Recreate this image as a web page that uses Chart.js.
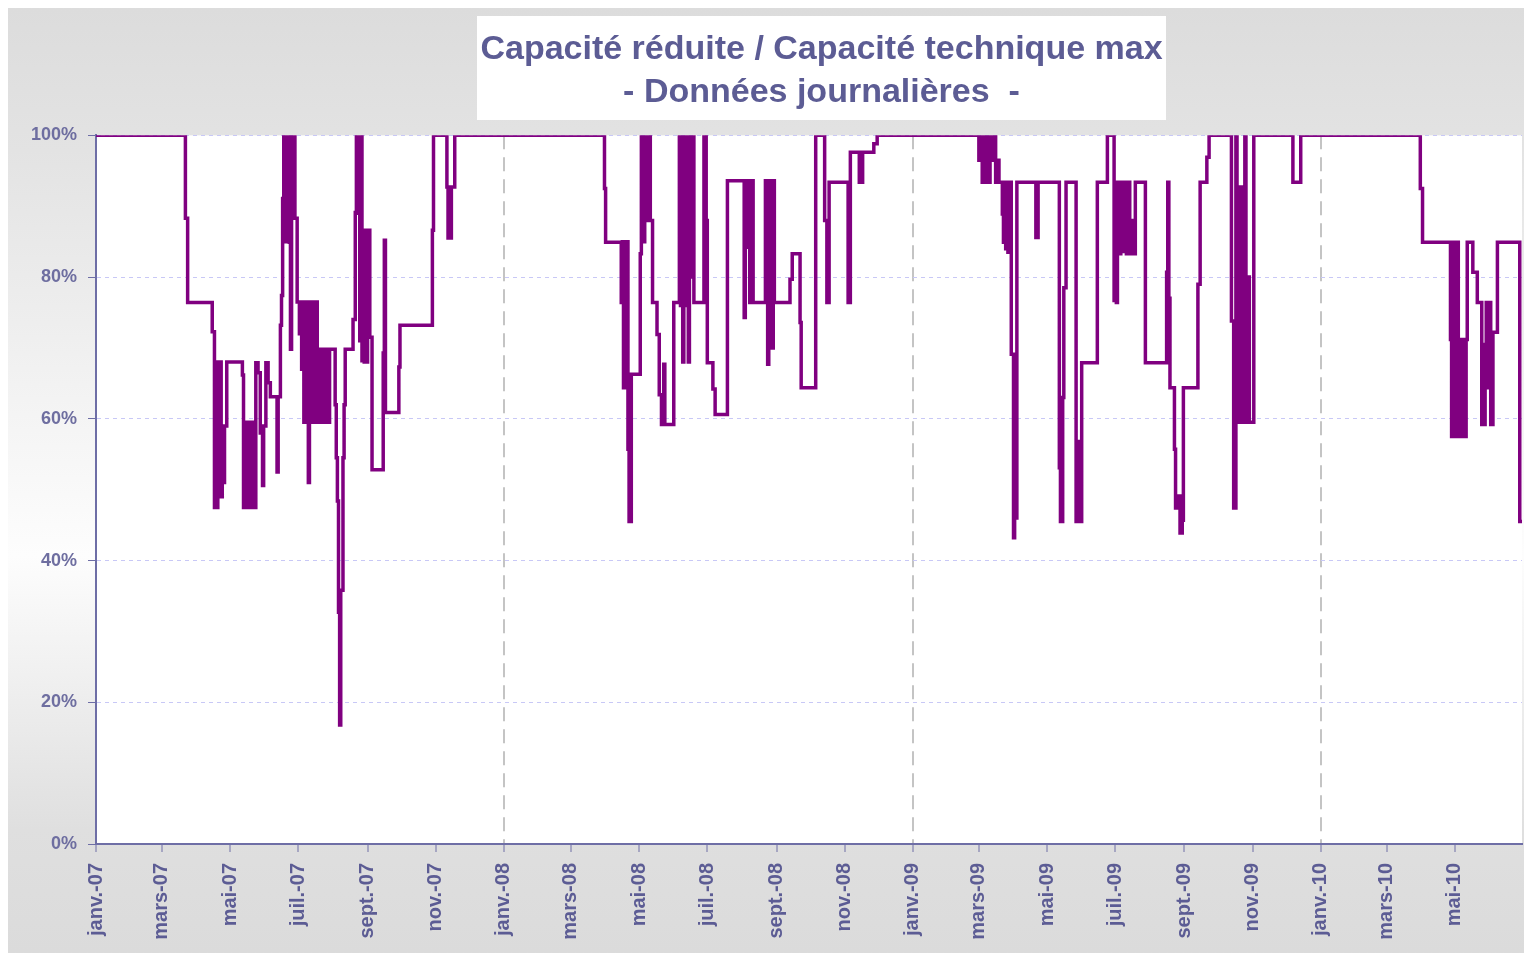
<!DOCTYPE html>
<html lang="fr">
<head>
<meta charset="utf-8">
<title>Capacité réduite / Capacité technique max</title>
<script src="https://cdn.jsdelivr.net/npm/chart.js@4/dist/chart.umd.min.js"></script>
<style>
    html, body { margin: 0; padding: 0; background: #fff; }
    #canvas-container { width: 1524px; height: 953px; }
</style>
</head>
<body>
<div id="canvas-container"><canvas id="canvas"></canvas></div>
<script>
// titre du graphique (2 lignes)
var titreLignes = ['Capacité réduite / Capacité technique max', '- Données journalières  -'];

// etiquettes de l'axe X, un mois sur deux a partir de janv. 2007
var etiquettesMois = ['janv.-07', 'mars-07', 'mai-07', 'juil.-07', 'sept.-07', 'nov.-07',
                      'janv.-08', 'mars-08', 'mai-08', 'juil.-08', 'sept.-08', 'nov.-08',
                      'janv.-09', 'mars-09', 'mai-09', 'juil.-09', 'sept.-09', 'nov.-09',
                      'janv.-10', 'mars-10', 'mai-10'];

// dernier jour affiche (30 juin 2010), en jours depuis le 1er janv. 2007
var jourFin = 1276;

// releves: [jour depuis le 01/01/2007, capacite en %], la valeur vaut jusqu'au releve suivant
var releves2007 = [
    [0,100],[80,88.3],[82,76.4],[104,72.3],[106,47.5],[107,68],[108,47.5],[109,68],[110,59],
    [111,68],[112,49],[113,59],[114,51],[115,59],[117,68],[131,66.2],[132,47.5],[133,59.5],
    [134,47.5],[135,59.5],[136,47.5],[137,58.5],[138,47.5],[139,59.5],[140,47.5],[141,59],
    [142,47.5],[143,67.9],[145,66.5],[147,58],[149,50.6],[150,59],[152,67.9],[154,65.1],
    [156,63.1],[162,52.5],[163,63.1],[165,73.2],[166,77.4],[167,91.1],[168,100],[170,85],
    [171,100],[173,84.9],[174,69.8],[175,100],[178,88.3],[180,76.5],[182,72],[183,76.5],
    [184,67],[185,76],[186,59.5],[187,76.5],[188,70],[189,76.5],[190,51],[191,64],[192,76.5],
    [193,59.5],[195,76.5],[196,59.5],[197,76.5],[198,59.5],[201,69.8],[202,59.5],[205,69.8],
    [206,59.5],[209,69.8],[214,62],[215,54.5],[216,48.4],[217,32.7],[218,16.8],[219,35.8],
    [221,54.5],[222,62],[223,69.8],[230,74],[232,89.1],[233,100],[234,89],[235,100],[236,71],
    [237,100],[238,68.2],[239,84.4],[240,68],[241,86.6],[242,68],[243,86.6],[245,71.5],
    [247,52.8],[257,69.3],[258,85.2],[259,60.9],[271,67.3],[272,73.2],[301,86.6],[302,100],
    [314,92.7],[315,85.5],[318,92.7],[321,100]
];

var releves2008 = [
    [455,92.5],[456,84.9],[470,76.4],[471,85],[472,64.4],[473,85],[474,65.3],[475,85],
    [476,55.7],[477,45.5],[479,66.3],[487,83.3],[488,100],[490,85],[491,100],[493,88],
    [494,100],[496,88],[498,76.4],[502,71.9],[504,63.4],[506,59.2],[508,67.7],[509,59.2],
    [517,76.4],[522,100],[523,76],[524,100],[525,68],[526,100],[527,76],[528,100],[530,68],
    [531,100],[533,80],[534,100],[535,76.4],[544,100],[546,88],[547,67.9],[552,64.2],
    [554,60.6],[565,93.6],[580,74.3],[581,93.6],[582,84.2],[583,93.6],[585,76.4],[587,93.6],
    [588,76.4],[599,93.6],[600,76.4],[601,67.7],[602,76.4],[603,93.6],[604,80],[605,70],
    [606,93.6],[607,76.4],[621,79.7],[623,83.3],[630,73.6],[631,64.4],[644,100],[652,88],
    [654,76.4],[656,93.4],[673,76.4],[675,97.6],[683,93.4],[686,97.6],[696,98.8],[699,100]
];

var releves2009 = [
    [790,96.5],[791,100],[793,93.4],[794,100],[796,93.4],[797,100],[799,93.4],[800,100],
    [802,96.5],[803,100],[805,93.4],[807,96.5],[808,93.4],[811,88.9],[812,84.9],[813,93.4],
    [814,84],[815,93.4],[816,83.5],[818,93.4],[819,69.1],[821,43.2],[822,46],[824,93.4],
    [841,85.6],[843,93.4],[862,53.1],[863,45.5],[865,63],[866,78.5],[868,93.4],[877,45.5],
    [878,56.8],[879,45.5],[880,56.8],[881,45.5],[882,67.9],[896,93.4],[905,100],[911,76.7],
    [912,93.4],[913,76.4],[914,93.4],[916,83.3],[917,93.4],[918,83.6],[920,93.4],[922,83.3],
    [923,93.4],[925,83.3],[926,88],[928,83.3],[930,93.4],[939,67.9],[958,80.7],[959,93.4],
    [960,77],[961,64.4],[965,55.7],[966,47.4],[968,49.1],[970,43.9],[972,45.7],[973,64.4],
    [986,79],[988,93.4],[994,96.9],[996,100],[1016,73.8],[1018,47.4],[1020,100],[1021,73.8],
    [1022,59.5],[1024,92.7],[1025,59.5],[1027,72.4],[1028,100],[1029,59.5],[1031,80],
    [1032,59.5],[1036,100],[1071,93.4],[1078,100]
];

var releves2010 = [
    [1185,92.5],[1187,84.9],[1212,71.2],[1213,57.5],[1215,84.9],[1216,57.5],[1217,84.9],
    [1219,71.2],[1220,57.5],[1221,71.2],[1222,57.5],[1223,71.2],[1224,57.5],[1226,71.2],
    [1227,84.9],[1232,80.7],[1236,76.4],[1240,59.2],[1243,70.5],[1244,76.4],[1245,64.4],
    [1247,76.4],[1248,59.2],[1250,72.2],[1254,84.9],[1274,45.5],[1276,45.5]
];

dessinerGraphe();

function dessinerGraphe(){

    var couleurTexte = '#5c5c94',
        couleurAxe = '#6e6ea6',
        police = "'Liberation Sans', Arial, sans-serif";

    // position des ticks X : le 1er du mois, en jours depuis le 01/01/2007
    var joursTicks = etiquettesMois.map(function(lbl, i){
        return (Date.UTC(2007, 2 * i, 1) - Date.UTC(2007, 0, 1)) / 86400000;
    });

    var points = releves2007.concat(releves2008, releves2009, releves2010).map(function(r){
        return {x: r[0], y: r[1]};
    });

    //fond degrade gris + zone du graphe + cadre blanc du titre
    var fondPlugin = {
        id: 'fond',
        afterLayout: function(chart){
            // le titre est centre sur son cadre blanc, pas sur le canvas
            var t = chart.titleBlock;
            t.left = 477;
            t.right = 1166;
            t.width = t.right - t.left;
        },
        beforeDraw: function(chart){
            var ctx = chart.ctx, a = chart.chartArea;
            ctx.save();
            ctx.fillStyle = '#ffffff';
            ctx.fillRect(0, 0, chart.width, chart.height);
            var grad = ctx.createLinearGradient(0, 8, 0, chart.height);
            grad.addColorStop(0, '#dcdcdc');
            grad.addColorStop(0.15, '#e3e3e3');
            grad.addColorStop(0.58, '#fdfdfd');
            grad.addColorStop(0.87, '#dfdfdf');
            grad.addColorStop(1, '#dbdbdb');
            ctx.fillStyle = grad;
            ctx.fillRect(8, 8, chart.width - 8, chart.height - 8);
            ctx.fillStyle = '#ffffff';
            ctx.fillRect(a.left, a.top, a.right - a.left, a.bottom - a.top);
            ctx.fillRect(477, 16, 689, 104);
            ctx.restore();
        }
    };

    var canvasCxt = document.getElementById('canvas').getContext('2d');

    new Chart(canvasCxt, {
        type: 'line',
        data: {
            datasets: [{
                label: 'Capacité réduite / Capacité technique max',
                data: points,
                borderColor: '#800080',
                backgroundColor: '#800080',
                borderWidth: 3.5,
                pointRadius: 0,
                stepped: true,
                fill: false
            }]
        },
        options: {
            responsive: true,
            maintainAspectRatio: false,
            animation: false,
            layout: { padding: { left: 0, right: 2, top: 0, bottom: 0 } },
            plugins: {
                legend: { display: false },
                tooltip: { enabled: false },
                title: {
                    display: true,
                    text: titreLignes,
                    color: couleurTexte,
                    font: { family: police, size: 34, weight: 'bold', lineHeight: 1.27 },
                    padding: { top: 28, bottom: 21 }
                }
            },
            scales: {
                x: {
                    type: 'linear',
                    min: 0,
                    max: jourFin,
                    afterBuildTicks: function(scale){
                        scale.ticks = joursTicks.map(function(j){ return {value: j}; });
                    },
                    afterFit: function(scale){ scale.height = 109; },
                    ticks: {
                        autoSkip: false,
                        maxRotation: 90,
                        minRotation: 90,
                        padding: 11,
                        color: couleurTexte,
                        font: { family: police, size: 20, weight: 'bold' },
                        callback: function(value, index){ return etiquettesMois[index]; }
                    },
                    grid: {
                        // seulement les changements d'annee en pointille gris
                        color: function(c){
                            return (c.tick && String(c.tick.label).indexOf('janv.') === 0 && c.tick.value > 0)
                                ? '#c4c4c4' : 'rgba(0,0,0,0)';
                        },
                        lineWidth: 2,
                        tickColor: couleurAxe,
                        tickWidth: 1,
                        tickLength: 8,
                        tickBorderDash: []
                    },
                    border: { display: true, color: couleurAxe, width: 2, dash: [14, 8] }
                },
                y: {
                    min: 0,
                    max: 100,
                    afterFit: function(scale){ scale.width = 96; },
                    ticks: {
                        stepSize: 20,
                        padding: 11,
                        color: '#6e6ea0',
                        font: { family: police, size: 18, weight: 'bold' },
                        callback: function(v){ return v + '%'; }
                    },
                    grid: {
                        color: '#c8c8f6',
                        lineWidth: 1,
                        tickColor: couleurAxe,
                        tickWidth: 1,
                        tickLength: 8,
                        tickBorderDash: []
                    },
                    border: { display: true, color: couleurAxe, width: 2, dash: [4, 4] }
                }
            }
        },
        plugins: [fondPlugin]
    });
}
</script>
</body>
</html>
